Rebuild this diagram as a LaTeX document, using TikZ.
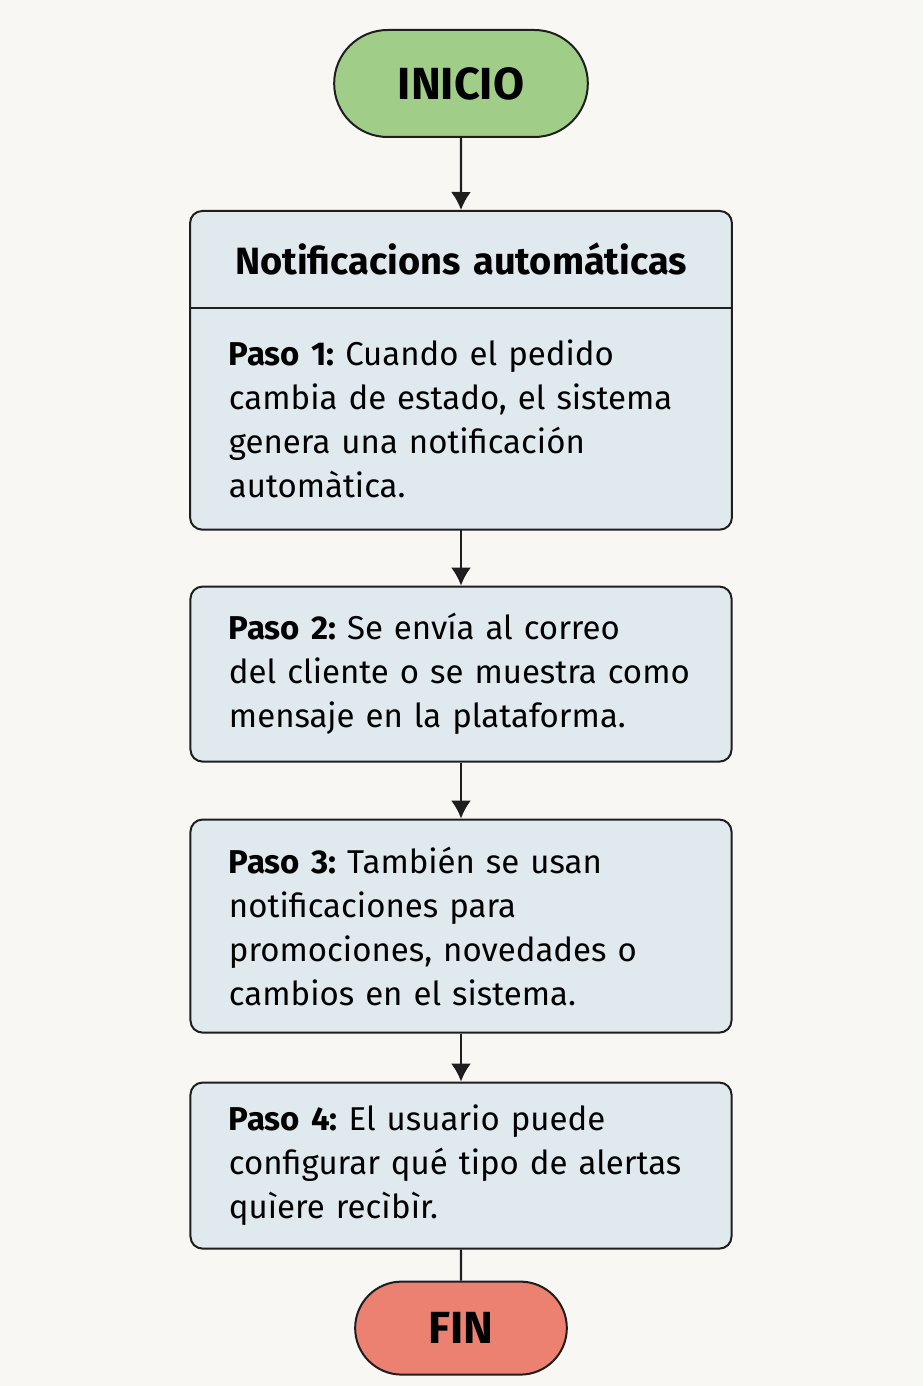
\documentclass[tikz,border=0pt]{standalone}
\usepackage{fontspec}
\setmainfont{Fira Sans}
\frenchspacing
\usepackage{tikz}
\usetikzlibrary{arrows.meta, positioning, fit, backgrounds, shapes.misc}
\definecolor{fondo}{RGB}{248,247,244}
\definecolor{cajaazul}{RGB}{223,233,238}
\definecolor{verdeinicio}{RGB}{160,206,136}
\definecolor{rojofin}{RGB}{236,128,113}
\definecolor{borde}{RGB}{30,30,30}

\begin{document}
\begin{tikzpicture}[
    terminal/.style={rounded rectangle, draw=borde, line width=1pt, font=\fontsize{22.5}{26}\selectfont\bfseries},
    bodytext/.style={rectangle, text width=232pt, inner xsep=19.25pt, inner ysep=0pt, align=left, font=\fontsize{16.5}{22}\selectfont},
    stepbox/.style={bodytext, rounded corners=6pt, draw=borde, line width=1pt, fill=cajaazul},
    titlebox/.style={rectangle, text width=232pt, inner xsep=19.25pt, inner ysep=0pt, minimum height=48pt, align=center, font=\fontsize{19}{22}\selectfont\bfseries},
    framebox/.style={rectangle, rounded corners=6pt, draw=borde, line width=1pt, fill=cajaazul, inner sep=0pt},
    arrow/.style={-{Latex[length=9pt,width=10pt]}, line width=1.2pt, draw=borde}
]
    \useasboundingbox (-230.5pt,41.75pt) rectangle (231pt,-651.25pt);
    \begin{scope}[on background layer]
        \fill[fondo] (-230.5pt,41.75pt) rectangle (231pt,-651.25pt);
    \end{scope}

    \node[terminal, fill=verdeinicio, minimum width=133.5pt, minimum height=53.5pt] (inicio) at (0,0) {INICIO};
    \node[titlebox, below=36.5pt of inicio] (titulo) {Notificacions automáticas};
    \node[bodytext, minimum height=110.5pt, below=0pt of titulo] (paso1) {\textbf{Paso 1:} Cuando el pedido\\cambia de estado, el sistema\\genera una notificación\\automàtica.};
    \begin{scope}[on background layer]
        \node[framebox, fit=(titulo)(paso1)] (bloque1) {};
    \end{scope}
    \draw[borde, line width=1pt] (titulo.south west) -- (titulo.south east);
    \node[stepbox, minimum height=87.5pt, below=28pt of paso1] (paso2) {\textbf{Paso 2:} Se envía al correo\\del cliente o se muestra como\\mensaje en la plataforma.};
    \node[stepbox, minimum height=106.5pt, below=28pt of paso2] (paso3) {\textbf{Paso 3:} También se usan\\notificaciones para\\promociones, novedades o\\cambios en el sistema.};
    \node[stepbox, minimum height=83pt, below=24pt of paso3] (paso4) {\textbf{Paso 4:} El usuario puede\\configurar qué tipo de alertas\\quìere recìbìr.};
    \node[terminal, fill=rojofin, minimum width=112.5pt, minimum height=46.5pt, below=15.5pt of paso4] (fin) {FIN};

    \draw[arrow] (inicio) -- (bloque1);
    \draw[arrow] (paso1) -- (paso2);
    \draw[arrow] (paso2) -- (paso3);
    \draw[arrow] (paso3) -- (paso4);
    \draw[borde, line width=1.2pt] (paso4) -- (fin);
\end{tikzpicture}
\end{document}
